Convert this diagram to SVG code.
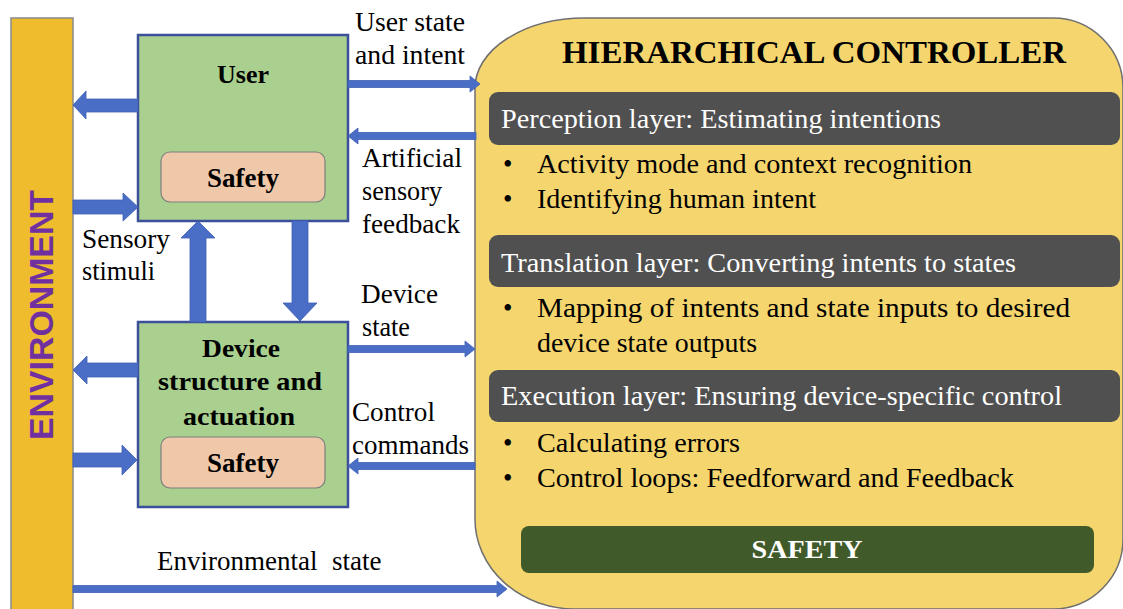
<svg xmlns="http://www.w3.org/2000/svg" width="1123" height="609" viewBox="0 0 1123 609">
  <style>
    text { fill: #000; }
    .lbl { font-size: 27px; }
    .bold { font-weight: bold; }
    .white { fill: #fff; }
    .box { fill: #a9d08e; stroke: #3b4f9a; stroke-width: 2.5; }
    .safe { fill: #efc8a9; stroke: #7f7f7f; stroke-width: 1.2; }
    .bar { fill: #505050; }
    .arr { fill: #4a6dc6; stroke: #3f5fb3; stroke-width: 0.8; }
  </style>

  <rect width="1123" height="609" fill="#fff"/>

  <!-- Environment column -->
  <g id="environment">
    <rect x="11" y="18" width="62" height="600" fill="#eebc2c" stroke="#8a8a8a" stroke-width="1.5"/>
    <text x="0" y="0" transform="translate(53,315) rotate(-90)" text-anchor="middle" font-family="Liberation Sans, Arial, sans-serif" font-weight="bold" font-size="33" style="fill:#7030a0" textLength="250" lengthAdjust="spacingAndGlyphs">ENVIRONMENT</text>
  </g>

  <g font-family="Liberation Serif, Times New Roman, DejaVu Serif, serif">
  <!-- User block -->
  <g id="user">
    <rect class="box" x="138" y="35" width="210" height="186"/>
    <text class="bold" x="243" y="83" font-size="26" text-anchor="middle">User</text>
    <rect class="safe" x="161" y="152" width="164" height="50" rx="9"/>
    <text class="bold" x="243" y="187" font-size="27" text-anchor="middle">Safety</text>
  </g>

  <!-- Device block -->
  <g id="device">
    <rect class="box" x="138" y="322" width="210" height="185"/>
    <text class="bold" x="241" y="357" font-size="26" text-anchor="middle" textLength="78" lengthAdjust="spacingAndGlyphs">Device</text>
    <text class="bold" x="240" y="390" font-size="26" text-anchor="middle" textLength="164" lengthAdjust="spacingAndGlyphs">structure and</text>
    <text class="bold" x="239" y="425" font-size="26" text-anchor="middle" textLength="112" lengthAdjust="spacingAndGlyphs">actuation</text>
    <rect class="safe" x="161" y="437" width="164" height="51" rx="9"/>
    <text class="bold" x="243" y="472" font-size="27" text-anchor="middle">Safety</text>
  </g>

  <!-- Hierarchical controller -->
  <g id="controller">
    <path d="M585,18 H1053 A70,70 0 0 1 1123,88 V539 A70,70 0 0 1 1053,609 H575 A100,90 0 0 1 475,519 V88 A110,70 0 0 1 585,18 Z" fill="#f5d56e" stroke="#6f6f6f" stroke-width="1.5"/>
    <text class="bold" x="814" y="63" font-size="31" text-anchor="middle" textLength="504" lengthAdjust="spacingAndGlyphs">HIERARCHICAL CONTROLLER</text>

    <g id="perception">
      <rect class="bar" x="489" y="92" width="631" height="53" rx="9"/>
      <text class="lbl white" x="501" y="128" textLength="440" lengthAdjust="spacingAndGlyphs">Perception layer: Estimating intentions</text>
      <text class="lbl" x="503" y="173">•</text>
      <text class="lbl" x="537" y="173" textLength="435" lengthAdjust="spacingAndGlyphs">Activity mode and context recognition</text>
      <text class="lbl" x="503" y="208">•</text>
      <text class="lbl" x="537" y="208" textLength="279" lengthAdjust="spacingAndGlyphs">Identifying human intent</text>
    </g>

    <g id="translation">
      <rect class="bar" x="489" y="235" width="631" height="52" rx="9"/>
      <text class="lbl white" x="501" y="272" textLength="515" lengthAdjust="spacingAndGlyphs">Translation layer: Converting intents to states</text>
      <text class="lbl" x="503" y="317">•</text>
      <text class="lbl" x="537" y="317" textLength="533" lengthAdjust="spacingAndGlyphs">Mapping of intents and state inputs to desired</text>
      <text class="lbl" x="537" y="352" textLength="220" lengthAdjust="spacingAndGlyphs">device state outputs</text>
    </g>

    <g id="execution">
      <rect class="bar" x="489" y="370" width="631" height="52" rx="9"/>
      <text class="lbl white" x="501" y="405" textLength="561" lengthAdjust="spacingAndGlyphs">Execution layer: Ensuring device-specific control</text>
      <text class="lbl" x="503" y="452">•</text>
      <text class="lbl" x="537" y="452" textLength="203" lengthAdjust="spacingAndGlyphs">Calculating errors</text>
      <text class="lbl" x="503" y="487">•</text>
      <text class="lbl" x="537" y="487" textLength="477" lengthAdjust="spacingAndGlyphs">Control loops: Feedforward and Feedback</text>
    </g>

    <g id="controller-safety">
      <rect x="521" y="526" width="573" height="47" rx="8" fill="#415a2a"/>
      <text class="bold white" x="807" y="558" font-size="26" text-anchor="middle" textLength="111" lengthAdjust="spacingAndGlyphs">SAFETY</text>
    </g>
  </g>

  <!-- Connectors -->
  <g id="connectors">
    <!-- thick block arrows between environment, user and device -->
    <polygon class="arr" points="138,99 86,99 86,91 73,105 86,119 86,112 138,112"/>
    <polygon class="arr" points="73,200 123,200 123,193 138,207 123,221 123,214 73,214"/>
    <polygon class="arr" points="138,363 87,363 87,356 73,370 87,384 87,377 138,377"/>
    <polygon class="arr" points="73,453 122,453 122,445 137,460 122,475 122,467 73,467"/>
    <polygon class="arr" points="190,322 190,238 181,238 198,221 215,238 206,238 206,322"/>
    <polygon class="arr" points="292,221 292,303 283,303 300,321 317,303 308,303 308,221"/>

    <!-- thin arrows to and from the controller -->
    <polygon class="arr" points="348,80.5 470,80.5 470,76 480,84 470,92 470,87.5 348,87.5"/>
    <polygon class="arr" points="476,132.5 358,132.5 358,128 348,136 358,144 358,139.5 476,139.5"/>
    <polygon class="arr" points="348,345.5 465,345.5 465,341 475,349 465,357 465,352.5 348,352.5"/>
    <polygon class="arr" points="475,462.5 358,462.5 358,458 348,466 358,474 358,469.5 475,469.5"/>
    <polygon class="arr" points="73,585.5 497,585.5 497,581 507,589 497,597 497,592.5 73,592.5"/>
  </g>

  <!-- Connector labels -->
  <g id="labels" class="lbl">
    <text x="355" y="31" textLength="110" lengthAdjust="spacingAndGlyphs">User state</text>
    <text x="355" y="64" textLength="110" lengthAdjust="spacingAndGlyphs">and intent</text>
    <text x="362" y="167" textLength="100" lengthAdjust="spacingAndGlyphs">Artificial</text>
    <text x="362" y="200" textLength="80" lengthAdjust="spacingAndGlyphs">sensory</text>
    <text x="362" y="233" textLength="98" lengthAdjust="spacingAndGlyphs">feedback</text>
    <text x="82" y="248" textLength="88" lengthAdjust="spacingAndGlyphs">Sensory</text>
    <text x="82" y="280" textLength="73" lengthAdjust="spacingAndGlyphs">stimuli</text>
    <text x="361" y="303" textLength="77" lengthAdjust="spacingAndGlyphs">Device</text>
    <text x="362" y="336" textLength="48" lengthAdjust="spacingAndGlyphs">state</text>
    <text x="352" y="421" textLength="83" lengthAdjust="spacingAndGlyphs">Control</text>
    <text x="352" y="454" textLength="117" lengthAdjust="spacingAndGlyphs">commands</text>
    <text x="157" y="570">Environmental <tspan x="332">state</tspan></text>
  </g>
  </g>
</svg>
